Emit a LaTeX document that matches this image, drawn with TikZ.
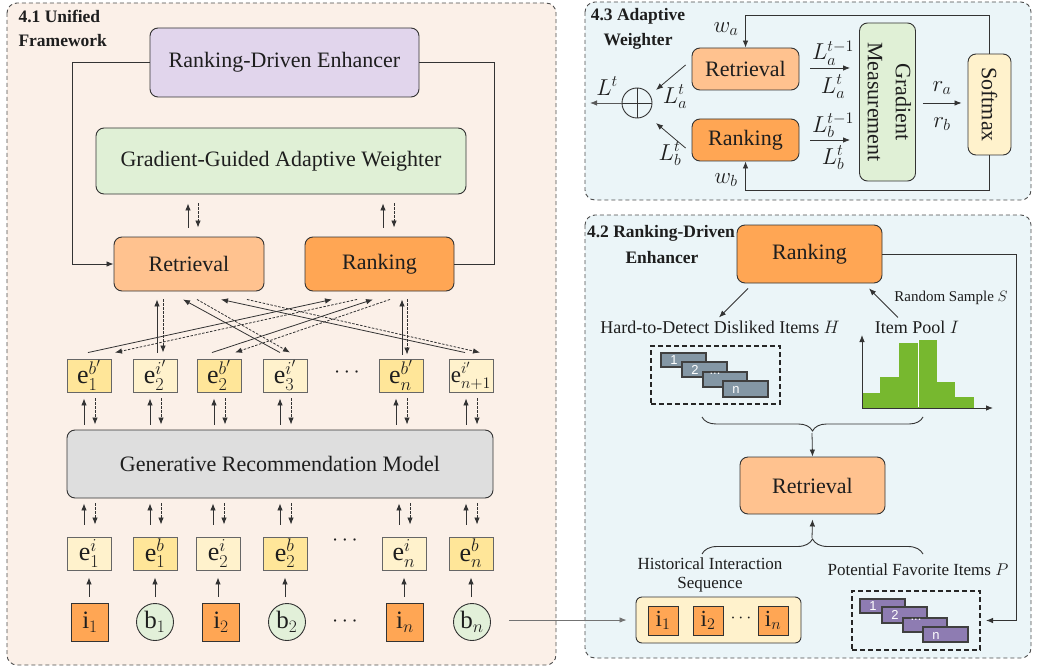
\RequirePackage{fix-cm}
\documentclass[tikz,border=0pt]{standalone}
\usepackage{fontspec}
\setmainfont{Liberation Serif}
\newfontfamily\barfont{Liberation Sans}
\usepackage{graphicx}
\usetikzlibrary{arrows.meta,calc,decorations.pathreplacing}
\definecolor{peach}{HTML}{FBF0E8}
\definecolor{pblue}{HTML}{EBF5F8}
\definecolor{lav}{HTML}{E1D5EC}
\definecolor{lgreen}{HTML}{E0F0D6}
\definecolor{lorange}{HTML}{FFC28F}
\definecolor{dorange}{HTML}{FFA654}
\definecolor{lgray}{HTML}{DEDEDE}
\definecolor{ly}{HTML}{FFF2CC}
\definecolor{dy}{HTML}{FFE699}
\definecolor{cgreen}{HTML}{E2F0D9}
\definecolor{slate}{HTML}{8497A5}
\definecolor{purp}{HTML}{8E7CB2}
\definecolor{hgreen}{HTML}{77B82F}
\definecolor{ink}{HTML}{333333}
\definecolor{txt}{HTML}{1E1E1E}
\newcommand{\setfs}[2]{\fontsize{#1}{#2}\selectfont}
\begin{document}
\begin{tikzpicture}[x=1pt,y=-1pt,
 every node/.style={text=txt},
 box/.style={draw=ink, line width=0.9pt, rounded corners=8pt, inner sep=0pt, font=\rmfamily\setfs{22}{26}},
 ebox/.style={draw=black!60, line width=0.9pt, minimum width=44pt, minimum height=33pt, inner sep=0pt, font=\setfs{26}{28}},
 isq/.style={draw=ink, line width=0.9pt, fill=dorange, minimum width=37pt, minimum height=38pt, inner sep=0pt, font=\setfs{25}{28}},
 ssq/.style={draw=ink, line width=0.9pt, fill=dorange, minimum width=30pt, minimum height=29pt, inner sep=0pt, font=\setfs{23}{26}},
 bcirc/.style={circle, draw=ink, line width=0.9pt, fill=cgreen, minimum size=37pt, inner sep=0pt, font=\setfs{25}{28}},
 sarr/.style={draw=ink, line width=0.8pt, -{Latex[length=7pt,width=5.5pt]}},
 darr/.style={sarr, dash pattern=on 2.5pt off 1.5pt},
 panel/.style={draw=black!70, line width=0.9pt, dash pattern=on 4pt off 3pt, rounded corners=10pt},
 ttl/.style={font=\bfseries\setfs{17.5}{24}, anchor=base},
 lbl/.style={font=\rmfamily\setfs{18}{22}, inner sep=1pt},
 mlbl/.style={font=\setfs{23}{25}, inner sep=0pt},
 dots/.style={font=\setfs{22}{24}, inner sep=0pt},
 dbox/.style={draw=black!85, line width=2pt, dash pattern=on 5pt off 3pt, inner sep=0pt},
 hbar/.style={draw=black!75, line width=1.6pt},
 blab/.style={font=\barfont\setfs{13}{15}, text=white, inner sep=0pt},
 brc/.style={draw=ink, line width=0.9pt, decorate},
]
\useasboundingbox (0,0) rectangle (1040,671);
% ---------- panels ----------
\draw[panel, fill=peach] (7,3) rectangle (556,665);
\draw[panel, fill=pblue] (585,2) rectangle (1031,200);
\draw[panel, fill=pblue] (585,215) rectangle (1031,658);

% ---------- 4.1 Unified Framework ----------
\node[ttl, anchor=base west] (t1a) at (15,23) {4.1 Unified};
\node[ttl, anchor=base west] (t1b) at (15,47) {Framework};

\node[box, fill=lav, minimum width=269pt, minimum height=69pt] (rde) at (284.5,62.5) {Ranking-Driven Enhancer};
\node[box, fill=lgreen, minimum width=370pt, minimum height=66pt] (ggaw) at (281,161) {Gradient-Guided Adaptive Weighter};
\node[box, fill=lorange, minimum width=150pt, minimum height=54pt] (ret) at (189,264) {Retrieval};
\node[box, fill=dorange, minimum width=149pt, minimum height=54pt] (rank) at (379.5,264) {Ranking};
\node[box, fill=lgray, minimum width=426pt, minimum height=68pt] (grm) at (280,464) {Generative Recommendation Model};

% feedback loop
\draw[sarr] (rde.west) -- ++(-77,0) |- (ret.west);
\draw[draw=ink, line width=0.8pt] (rank.east) -- ++(40,0) |- (rde.east);

% GGAW <-> Retrieval / Ranking
\draw[sarr] ($(ret.north)+(-1,-9)$) -- ($(ret.north|-ggaw.south)+(-1,9)$);
\draw[darr] ($(ret.north|-ggaw.south)+(9,9)$) -- ($(ret.north)+(9,-9)$);
\draw[sarr] ($(rank.north)+(3.5,-9)$) -- ($(rank.north|-ggaw.south)+(3.5,9)$);
\draw[darr] ($(rank.north|-ggaw.south)+(14.5,9)$) -- ($(rank.north)+(14.5,-9)$);

% e' row
\node[ebox, fill=dy] (p1) at (89,375.5) {$\mathrm{e}_1^{b'}$};
\node[ebox, fill=ly] (p2) at (155,375.5) {$\mathrm{e}_2^{i'}$};
\node[ebox, fill=dy] (p3) at (219,375.5) {$\mathrm{e}_2^{b'}$};
\node[ebox, fill=ly] (p4) at (285,375.5) {$\mathrm{e}_3^{i'}$};
\node[dots] (pd) at (347,373) {$\cdots$};
\node[ebox, fill=dy] (p5) at (401,375.5) {$\mathrm{e}_n^{b'}$};
\node[ebox, fill=ly, font=\setfs{23}{26}] (p6) at (471,375.5) {$\mathrm{e}_{n+1}^{i'}$};

% crossing connectors
\draw[sarr] ($(p1.north)+(-1,-6)$) -- ($(rank.south)+(-47.5,8)$);
\draw[darr] ($(rank.south)+(-22.5,8)$) -- ($(p1.north)+(26,-6)$);
\draw[sarr] ($(p2.north)+(2,-6)$) -- ($(ret.south)+(-32,8)$);
\draw[darr] ($(ret.south)+(-26,8)$) -- ($(p2.north)+(8,-6)$);
\draw[sarr] ($(p3.north)+(-7,-6)$) -- ($(rank.south)+(-6.5,8)$);
\draw[darr] ($(rank.south)+(10.5,8)$) -- ($(p3.north)+(16,-6)$);
\draw[sarr] ($(p4.north)+(-5,-6)$) -- ($(ret.south)+(-6,8)$);
\draw[darr] ($(ret.south)+(8,8)$) -- ($(p4.north)+(5,-6)$);
\draw[sarr] ($(p5.north)+(1,-4)$) -- ($(rank.south)+(22.5,8)$);
\draw[darr] ($(rank.south)+(27.5,8)$) -- ($(p5.north)+(6,-4)$);
\draw[sarr] ($(p6.north)+(-6,-6)$) -- ($(ret.south)+(32,8)$);
\draw[darr] ($(ret.south)+(58,8)$) -- ($(p6.north)+(9,-6)$);

% e' <-> GRM
\foreach \p in {p1,p2,p3,p4,p5,p6}{
 \draw[sarr] ($(\p.south|-grm.north)+(-5,-5)$) -- ($(\p.south)+(-5,6)$);
 \draw[darr] ($(\p.south)+(6,6)$) -- ($(\p.south|-grm.north)+(6,-5)$);
}

% e row
\node[ebox, fill=ly] (q1) at (89,553.5) {$\mathrm{e}_1^{i}$};
\node[ebox, fill=dy] (q2) at (155,553.5) {$\mathrm{e}_1^{b}$};
\node[ebox, fill=ly] (q3) at (218,553.5) {$\mathrm{e}_2^{i}$};
\node[ebox, fill=dy] (q4) at (285,553.5) {$\mathrm{e}_2^{b}$};
\node[dots] (qd) at (345,541) {$\cdots$};
\node[ebox, fill=ly] (q5) at (404,553.5) {$\mathrm{e}_n^{i}$};
\node[ebox, fill=dy] (q6) at (471,553.5) {$\mathrm{e}_n^{b}$};

\foreach \q in {q1,q2,q3,q4,q5,q6}{
 \draw[sarr] ($(\q.north)+(-5,-12)$) -- ($(\q.north|-grm.south)+(-5,5)$);
 \draw[darr] ($(\q.north|-grm.south)+(6,5)$) -- ($(\q.north)+(6,-12)$);
}

% input row
\node[isq] (i1) at (90,622) {$\mathrm{i}_1$};
\node[bcirc] (b1) at (155,622) {$\mathrm{b}_1$};
\node[isq] (i2) at (221,622) {$\mathrm{i}_2$};
\node[bcirc] (b2) at (287,622) {$\mathrm{b}_2$};
\node[dots] (id) at (345,622) {$\cdots$};
\node[isq] (in) at (405,622) {$\mathrm{i}_n$};
\node[bcirc] (bn) at (472,622) {$\mathrm{b}_n$};

\foreach \src/\dst in {i1/q1,b1/q2,i2/q3,b2/q4,in/q5,bn/q6}{
 \draw[sarr] ($(\dst.south|-\src.north)+(0,-6)$) -- ($(\dst.south)+(0,7)$);
}

% ---------- 4.3 Adaptive Weighter ----------
\node[ttl] (t3a) at (638,21) {4.3 Adaptive};
\node[ttl] (t3b) at (638,46) {Weighter};

\node[box, fill=lorange, minimum width=107pt, minimum height=42pt] (ret2) at (745.5,69) {Retrieval};
\node[box, fill=dorange, minimum width=107pt, minimum height=42pt] (rank2) at (745.5,140) {Ranking};
\node[box, fill=lgreen, minimum width=55pt, minimum height=158pt, font=\rmfamily\setfs{22}{28}] (gm) at (887.5,102)
  {\rotatebox{-90}{\begin{tabular}{@{}c@{}}Gradient\\Measurement\end{tabular}}};
\node[box, fill=ly, minimum width=43pt, minimum height=101pt] (soft) at (989.5,104.5) {\rotatebox{-90}{Softmax}};
\node[circle, draw=ink, line width=0.9pt, minimum size=30pt, inner sep=0pt] (op) at (637,103) {};
\draw[draw=ink, line width=0.9pt] (op.north) -- (op.south) (op.west) -- (op.east);

\coordinate (topy) at (0,15);
\coordinate (boty) at (0,190);
\draw[sarr] (soft.north) -- (soft.north|-topy) -| (ret2.north);
\draw[sarr] (soft.south) -- (soft.south|-boty) -| (rank2.south);
\node[mlbl] (wa) at (726,29) {$w_a$};
\node[mlbl] (wb) at (726,180) {$w_b$};

\draw[sarr] ($(ret2.east)+(11,-1)$) -- ($(gm.west|-ret2.east)+(-9,-1)$);
\draw[sarr] ($(rank2.east)+(11,0)$) -- ($(gm.west|-rank2.east)+(-9,0)$);
\node[mlbl] (la1) at (833,53) {$L_a^{t-1}$};
\node[mlbl] (la2) at (833,87) {$L_a^{t}$};
\node[mlbl] (lb1) at (833,125) {$L_b^{t-1}$};
\node[mlbl] (lb2) at (833,158) {$L_b^{t}$};

\draw[sarr] ($(gm.east)+(7,1)$) -- ($(soft.west|-gm.east)+(-6,1)$);
\node[mlbl] (ra) at (942,88) {$r_a$};
\node[mlbl] (rb) at (942,124) {$r_b$};

\draw[sarr] ($(ret2.west)+(-6,-4)$) -- ($(op.center)+(19,-13)$);
\draw[sarr] ($(rank2.west)+(-6,8)$) -- ($(op.center)+(19,20)$);
\coordinate (lend) at (590,103);
\draw[sarr, draw=black!65] (op.west) -- (lend);
\node[mlbl] (lt) at (607,86) {$L^{t}$};
\node[mlbl] (lat) at (675,97) {$L_a^{t}$};
\node[mlbl] (lbt) at (670,154) {$L_b^{t}$};

% ---------- 4.2 Ranking-Driven Enhancer ----------
\node[ttl] (t2a) at (661,237) {4.2 Ranking-Driven};
\node[ttl] (t2b) at (662,263) {Enhancer};

\node[box, fill=dorange, minimum width=145pt, minimum height=58pt] (rank3) at (809.5,254) {Ranking};
\node[lbl] (hl) at (720,327) {Hard-to-Detect Disliked Items $H$};
\node[lbl] (ip) at (917,327) {Item Pool $I$};
\node[font=\rmfamily\setfs{15}{18}, inner sep=1pt] (rs) at (951,298) {Random Sample $S$};
\draw[sarr] ($(rank3.south)+(-61.5,5)$) -- ($(hl.north)+(-1,-2)$);
\draw[sarr] ($(ip.north)+(-19,-2)$) -- ($(rank3.south)+(59.5,5)$);

% hard items box
\node[dbox, minimum width=129pt, minimum height=58pt] (hbox) at (715.5,375) {};
\draw[hbar, fill=slate] (661,353) rectangle (706,367);
\node[blab] (h1) at (674,360) {1};
\draw[hbar, fill=slate] (682,362) rectangle (727,377);
\node[blab] (h2) at (695,369.5) {2};
\draw[hbar, fill=slate] (703,372) rectangle (747,387);
\node[blab] (h3) at (715,374) {...};
\draw[hbar, fill=slate] (723,381) rectangle (768,397);
\node[blab] (h4) at (736,390) {n};

% histogram
\fill[hgreen] (862,393) rectangle (880,408);
\fill[hgreen] (880,377) rectangle (899,408);
\fill[hgreen] (899,343) rectangle (918,408);
\fill[hgreen] (918,340) rectangle (937,408);
\fill[hgreen] (937,382) rectangle (955,408);
\fill[hgreen] (955,397) rectangle (974,408);
\draw[white, line width=0.8pt] (918,340) -- (918,407);
\coordinate (hor) at (862,408);
\coordinate (hyt) at (862,335);
\coordinate (hxt) at (993,408);
\draw[sarr] (hor) -- (hyt);
\draw[sarr] (hor) -- (hxt);

% braces
\draw[brc, decoration={brace, amplitude=14pt}] (923,417) -- (702,417);
\coordinate (b1tip) at (812,433);
\node[box, fill=lorange, minimum width=145pt, minimum height=57pt] (ret3) at (812.5,485.5) {Retrieval};
\draw[sarr] (b1tip) -- (ret3.north);
\draw[brc, decoration={brace, amplitude=15pt}] (702,554) -- (923,554);
\coordinate (b2tip) at (812,538);
\draw[sarr] (b2tip) -- ($(ret3.south)+(0,5)$);

\node[font=\rmfamily\setfs{17}{19}, align=center, inner sep=0pt] (hisl) at (710,575) {Historical Interaction\\Sequence};
\node[font=\rmfamily\setfs{17}{20}, inner sep=0pt] (pfl) at (918,570) {Potential Favorite Items $P$};

% history box
\node[draw=ink, line width=0.9pt, fill=ly, rounded corners=6pt, minimum width=165pt, minimum height=46pt] (hist) at (718.5,620) {};
\node[ssq] (s1) at (663,620.5) {$\mathrm{i}_1$};
\node[ssq] (s2) at (708,620.5) {$\mathrm{i}_2$};
\node[dots, font=\setfs{18}{20}] (sd) at (741,618) {$\cdots$};
\node[ssq] (s3) at (773,620.5) {$\mathrm{i}_n$};
\draw[sarr, draw=black!55] ($(bn.east)+(18,-2)$) -- ($(hist.west)+(-9,0)$);

% potential favourite box
\node[dbox, minimum width=128pt, minimum height=59pt] (pbox) at (916,620.5) {};
\draw[hbar, fill=purp] (860,599) rectangle (905,613);
\node[blab] (g1) at (873,606) {1};
\draw[hbar, fill=purp] (882,607) rectangle (927,623);
\node[blab] (g2) at (895,615) {2};
\draw[hbar, fill=purp] (903,618) rectangle (947,632);
\node[blab] (g3) at (916,620) {...};
\draw[hbar, fill=purp] (923,627) rectangle (968,642);
\node[blab] (g4) at (936,635.5) {n};

\coordinate (rc) at (1016,254);
\draw[sarr] (rank3.east) -- (rank3.east-|rc) |- ($(pbox.east)+(5,0)$);
\end{tikzpicture}
\end{document}
